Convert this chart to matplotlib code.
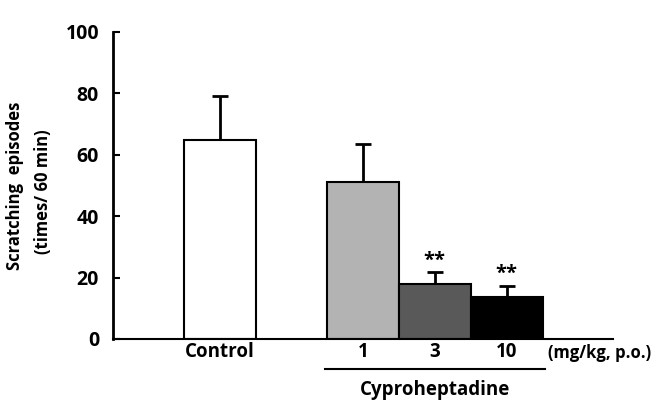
import matplotlib
matplotlib.use('Agg')
import matplotlib.pyplot as plt

plt.rcParams['font.family'] = ['Open Sans', 'DejaVu Sans']
plt.rcParams['font.weight'] = 'bold'

groups = ['Control', '1', '3', '10']
means = [64.6, 51.2, 18.0, 13.6]
sems = [14.6, 12.4, 3.7, 3.7]
colors = ['white', '#b3b3b3', '#595959', 'black']
stars = ['', '', '**', '**']
xpos = [1.486, 3.47, 4.47, 5.47]

fig = plt.figure(figsize=(6.65, 4.05), dpi=100)
ax = fig.add_axes([113/665, 1-339/405, 500/665, (339-31.7)/405])

ax.bar(xpos, means, width=1.0, color=colors, edgecolor='black', linewidth=1.5, zorder=2)
ax.errorbar(xpos, means, yerr=[[0]*4, sems], fmt='none', ecolor='black',
            elinewidth=2, capsize=6, capthick=2, zorder=1)
for x, m, s, st in zip(xpos, means, sems, stars):
    if st:
        ax.text(x, m + s + 0.5, st, ha='center', va='bottom', fontsize=14.5, fontweight='bold')

ax.set_xlim(0, 500/72)
ax.set_ylim(0, 100)
ax.set_yticks([0, 20, 40, 60, 80, 100])
ax.set_xticks(xpos)
ax.set_xticklabels(groups)
ax.tick_params(axis='x', length=0, pad=2, labelsize=13.5)
ax.tick_params(axis='y', direction='in', length=5, width=1.5, labelsize=14, pad=10)
for lab in ax.get_xticklabels() + ax.get_yticklabels():
    lab.set_fontweight('bold')
ax.spines['top'].set_visible(False)
ax.spines['right'].set_visible(False)
ax.spines['left'].set_linewidth(2)
ax.spines['bottom'].set_linewidth(1.5)

fig.text(548/665, 1-353/405, '(mg/kg, p.o.)', ha='left', va='center', fontsize=12, fontweight='bold')
fig.add_artist(plt.Line2D([325/665, 545/665], [1-369/405, 1-369/405], color='black', lw=1.5))
fig.text(435/665, 1-390/405, 'Cyproheptadine', ha='center', va='center', fontsize=13.5, fontweight='bold')

fig.text(15/665, 1-186/405, 'Scratching  episodes', rotation=90, ha='center', va='center',
         fontsize=12, fontweight='bold')
fig.text(43/665, 1-192/405, '(times/ 60 min)', rotation=90, ha='center', va='center',
         fontsize=12, fontweight='bold')

fig.savefig('out.png', dpi=100)
